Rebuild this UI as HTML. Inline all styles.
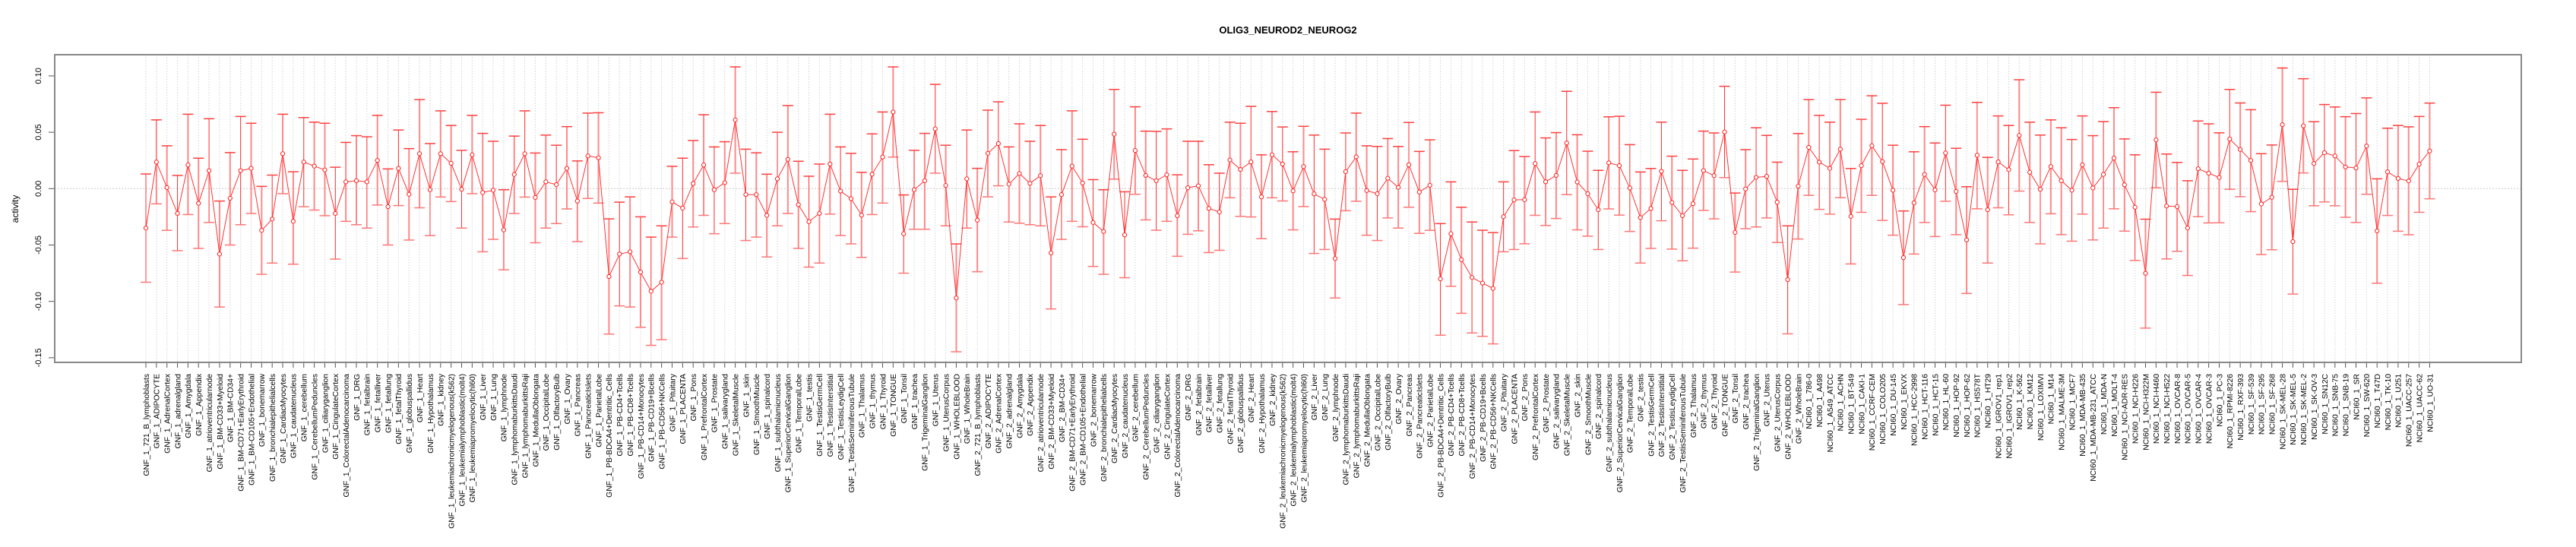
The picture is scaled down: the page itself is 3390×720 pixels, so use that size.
<!DOCTYPE html>
<html><head><meta charset="utf-8"><title>OLIG3_NEUROD2_NEUROG2</title>
<style>html,body{margin:0;padding:0;background:#fff;}svg{display:block;font-family:"Liberation Sans",Arial,sans-serif;}</style>
</head><body>
<svg id="chart" width="3390" height="720" viewBox="0 0 3390 720" xmlns="http://www.w3.org/2000/svg">
<text x="1695" y="44" text-anchor="middle" font-size="13" font-weight="bold">OLIG3_NEUROD2_NEUROG2</text>
<text transform="translate(24,275) rotate(-90)" text-anchor="middle" font-size="12">activity</text>
<g id="grid"></g>
<g id="yaxis"></g>
<g id="xaxis"></g>
<g id="series"></g>
<rect x="72" y="72" width="3246" height="405" fill="none" stroke="#888" stroke-width="2"/>
</svg>
<script>
const gnf=["721_B_lymphoblasts","ADIPOCYTE","AdrenalCortex","adrenalgland","Amygdala","Appendix","atrioventricularnode","BM-CD33+Myeloid","BM-CD34+","BM-CD71+EarlyErythroid","BM-CD105+Endothelial","bonemarrow","bronchialepithelialcells","CardiacMyocytes","caudatenucleus","cerebellum","CerebellumPeduncles","ciliaryganglion","CingulateCortex","ColorectalAdenocarcinoma","DRG","fetalbrain","fetalliver","fetallung","fetalThyroid","globuspallidus","Heart","Hypothalamus","kidney","leukemiachronicmyelogenous(k562)","leukemialymphoblastic(molt4)","leukemiapromyelocytic(hl60)","Liver","Lung","lymphnode","lymphomaburkittsDaudi","lymphomaburkittsRaji","MedullaOblongata","OccipitalLobe","OlfactoryBulb","Ovary","Pancreas","PancreaticIslets","ParietalLobe","PB-BDCA4+Dentritic_Cells","PB-CD4+Tcells","PB-CD8+Tcells","PB-CD14+Monocytes","PB-CD19+Bcells","PB-CD56+NKCells","Pituitary","PLACENTA","Pons","PrefrontalCortex","Prostate","salivarygland","SkeletalMuscle","skin","SmoothMuscle","spinalcord","subthalamicnucleus","SuperiorCervicalGanglion","TemporalLobe","testis","TestisGermCell","TestisInterstitial","TestisLeydigCell","TestisSeminiferousTubule","Thalamus","thymus","Thyroid","TONGUE","Tonsil","trachea","TrigeminalGanglion","Uterus","UterusCorpus","WHOLEBLOOD","WholeBrain"];
const nci=["786-0","A498","A549_ATCC","ACHN","BT-549","CAKI-1","CCRF-CEM","COLO205","DU-145","EKVX","HCC-2998","HCT-116","HCT-15","HL-60","HOP-92","HOP-62","HS578T","HT29","IGROV1_rep1","IGROV1_rep2","K-562","KM12","LOXIMVI","M14","MALME-3M","MCF7","MDA-MB-435","MDA-MB-231_ATCC","MDA-N","MOLT-4","NCI-ADR-RES","NCI-H226","NCI-H322M","NCI-H460","NCI-H522","OVCAR-8","OVCAR-5","OVCAR-4","OVCAR-3","PC-3","RPMI-8226","RXF-393","SF-539","SF-295","SF-268","SK-MEL-28","SK-MEL-5","SK-MEL-2","SK-OV-3","SN12C","SNB-75","SNB-19","SR","SW-620","T47D","TK-10","U251","UACC-257","UACC-62","UO-31"];
const categories=gnf.map(s=>"GNF_1_"+s).concat(gnf.map(s=>"GNF_2_"+s),nci.map(s=>"NCI60_1_"+s));
const means=[-0.035,0.0236,0.001,-0.022,0.021,-0.013,0.016,-0.058,-0.0085,0.016,0.018,-0.037,-0.027,0.031,-0.029,0.0236,0.020,0.0166,-0.022,0.006,0.007,0.006,0.025,-0.016,0.018,-0.005,0.031,-0.001,0.031,0.0225,
-0.0006,0.030,-0.0034,-0.0014,-0.0366,0.0126,0.031,-0.0078,0.006,0.0036,0.018,-0.011,0.029,0.0274,-0.078,-0.058,-0.056,-0.074,-0.091,-0.083,-0.0117,
-0.0173,0.0045,0.021,-0.001,0.0053,0.061,-0.0053,-0.0053,-0.0237,0.0087,0.026,-0.0142,-0.0293,-0.022,0.0218,-0.0022,-0.0089,-0.0235,0.0128,0.028,0.068,
-0.040,-0.001,0.007,0.053,0.0028,-0.097,0.0087,
-0.028,0.0313,0.040,0.004,0.0134,0.0047,0.0115,-0.057,-0.0053,0.020,0.005,-0.030,-0.038,0.0483,-0.041,0.0338,0.0117,0.007,0.0123,-0.024,0.0008,0.0025,-0.0176,-0.0207,0.0254,0.017,0.0237,-0.0073,0.030,0.0218,-0.002,0.0196,-0.0047,-0.0095,-0.062,
0.0151,0.0282,-0.0017,-0.0045,0.0092,0.0011,0.0212,-0.003,0.003,-0.080,-0.040,-0.063,-0.0788,-0.0838,-0.0885,-0.0249,-0.010,-0.0098,0.0223,0.0061,0.0117,
0.0405,0.0059,-0.0045,-0.0187,0.0229,0.0204,0.0006,-0.0257,-0.0176,0.0154,-0.0123,-0.024,-0.0134,0.016,0.0115,0.0503,-0.0388,-0.0003,0.010,0.0109,-0.012,-0.0807,0.0022,
0.0366,0.0235,0.018,0.035,-0.0246,0.0204,0.038,0.024,-0.0014,-0.0612,-0.0126,0.0126,-0.0011,0.0316,-0.0025,-0.0455,0.0296,-0.0187,0.0237,
0.0168,0.0472,0.0145,-0.0006,0.0196,0.007,-0.0014,0.0212,0.0006,0.0126,0.0271,0.0034,-0.0165,-0.0751,0.0433,-0.0154,-0.0159,-0.0349,0.0176,0.0137,
0.0099,0.044,0.0347,0.025,-0.0136,-0.0077,0.0567,-0.047,0.0557,0.0223,0.0319,0.029,0.0192,0.0183,0.0378,-0.0375,0.0149,0.009,0.0068,0.0217,0.0334];
const upper=[0.013,0.061,0.038,0.0117,0.066,0.027,0.062,-0.011,0.032,0.064,0.058,0.002,0.012,0.066,0.015,0.063,0.059,0.058,0.019,0.041,0.047,0.046,0.065,0.0175,0.052,0.0355,0.079,0.040,0.069,0.056,
0.034,0.065,0.049,0.042,-0.001,0.0466,0.069,0.0316,0.0475,0.0385,0.055,0.0246,0.067,0.0673,-0.0268,-0.012,-0.0073,-0.025,-0.043,-0.033,0.0198,
0.027,0.0427,0.0656,0.037,0.0416,0.108,0.035,0.0318,0.0128,0.05,0.0737,0.0243,0.011,0.0218,0.066,0.037,0.0313,0.0145,0.0486,0.068,0.108,
-0.0056,0.034,0.049,0.0925,0.0385,-0.049,0.052,
0.018,0.0696,0.077,0.037,0.0575,0.042,0.056,-0.0073,0.0346,0.069,0.0438,0.008,-0.001,0.088,-0.0028,0.0726,0.051,0.0508,0.053,0.0123,0.042,0.042,0.0212,0.0137,0.059,0.058,0.073,0.030,0.0684,0.0547,0.0327,0.0553,0.0475,0.035,-0.027,
0.0494,0.067,0.038,0.0374,0.0444,0.0374,0.0587,0.033,0.0433,-0.031,0.006,-0.0165,-0.0296,-0.0369,-0.039,0.006,0.0338,0.0285,0.068,0.045,0.0497,
0.0863,0.0478,0.0332,0.0162,0.0637,0.0642,0.039,0.0148,0.0179,0.059,0.0288,0.0162,0.0263,0.051,0.0494,0.0908,-0.0039,0.0346,0.054,0.0472,0.0235,-0.033,0.0489,
0.079,0.065,0.059,0.079,0.0179,0.0615,0.0824,0.0757,0.0385,-0.0198,0.0327,0.055,0.0405,0.074,0.0358,0.0017,0.0765,0.0277,0.0645,
0.056,0.0966,0.059,0.0475,0.061,0.054,0.0436,0.0645,0.047,0.0595,0.0718,0.0441,0.030,-0.0271,0.0855,0.0307,0.0232,0.007,0.060,0.0575,
0.0495,0.088,0.076,0.070,0.031,0.0387,0.107,-0.0006,0.0975,0.0594,0.0746,0.0724,0.0638,0.0666,0.0805,0.0087,0.0536,0.056,0.0548,0.064,0.0759];
const lower=[-0.083,-0.0135,-0.037,-0.055,-0.023,-0.053,-0.030,-0.105,-0.050,-0.032,-0.022,-0.076,-0.066,-0.0045,-0.067,-0.016,-0.019,-0.024,-0.0625,-0.029,-0.032,-0.035,-0.0145,-0.050,-0.015,-0.0456,-0.017,-0.0416,-0.0074,-0.0115,
-0.035,-0.0045,-0.056,-0.045,-0.072,-0.022,-0.0075,-0.048,-0.035,-0.031,-0.018,-0.047,-0.0087,-0.0128,-0.129,-0.104,-0.105,-0.123,-0.139,-0.134,-0.043,
-0.062,-0.034,-0.0237,-0.040,-0.031,0.0137,-0.046,-0.043,-0.0606,-0.033,-0.022,-0.053,-0.0696,-0.066,-0.0226,-0.0416,-0.049,-0.061,-0.023,-0.0128,0.028,
-0.075,-0.036,-0.036,0.0137,-0.033,-0.1447,-0.035,
-0.0737,-0.0073,0.0025,-0.0296,-0.0307,-0.032,-0.033,-0.1067,-0.045,-0.029,-0.0338,-0.069,-0.076,0.0084,-0.079,-0.005,-0.0277,-0.0369,-0.029,-0.060,-0.0405,-0.0374,-0.0567,-0.0547,-0.0081,-0.0246,-0.0251,-0.0444,-0.0081,-0.0109,-0.0366,-0.0159,-0.0575,-0.054,-0.097,
-0.0196,-0.0112,-0.0413,-0.046,-0.026,-0.035,-0.0165,-0.0397,-0.037,-0.130,-0.0866,-0.1106,-0.128,-0.131,-0.1377,-0.056,-0.054,-0.0489,-0.0237,-0.0327,-0.0265,
-0.0053,-0.0366,-0.0422,-0.054,-0.018,-0.0235,-0.038,-0.066,-0.053,-0.0285,-0.0536,-0.064,-0.0528,-0.0193,-0.0268,0.0098,-0.074,-0.0355,-0.034,-0.026,-0.0478,-0.1288,-0.0447,
-0.006,-0.0184,-0.0226,-0.008,-0.0668,-0.021,-0.006,-0.0282,-0.0413,-0.1028,-0.058,-0.030,-0.0425,-0.0112,-0.0408,-0.093,-0.0179,-0.066,-0.017,
-0.0232,-0.0022,-0.030,-0.049,-0.0223,-0.0408,-0.0466,-0.0226,-0.0455,-0.035,-0.0179,-0.0377,-0.0637,-0.1237,0.0008,-0.0623,-0.0556,-0.077,-0.0249,-0.0304,
-0.0303,-0.0006,-0.0071,-0.0204,-0.0585,-0.0542,0.0065,-0.0935,0.0139,-0.0152,-0.0118,-0.0152,-0.0254,-0.030,-0.005,-0.0839,-0.0238,-0.0378,-0.0409,-0.021,-0.009];
const yTicks=[-0.15,-0.10,-0.05,0.00,0.05,0.10];
const yTickLabels=["-0.15","-0.10","-0.05","0.00","0.05","0.10"];

const NS="http://www.w3.org/2000/svg";
const X0=192, DX=13.85, Y0=248.3, YS=1484, TOP=72, BOT=477, LEFT=72;
function xPos(i){return X0+DX*i;}
function yPos(v){return Y0-YS*v;}
function mk(tag,attrs,parent){const e=document.createElementNS(NS,tag);for(const k in attrs)e.setAttribute(k,attrs[k]);parent.appendChild(e);return e;}
const grid=document.getElementById('grid'),yax=document.getElementById('yaxis'),xax=document.getElementById('xaxis'),ser=document.getElementById('series');

// horizontal zero reference line
const zl=mk('line',{x1:LEFT,x2:3318,y1:yPos(0),y2:yPos(0),stroke:'#c8c8c8','stroke-dasharray':'2,2','stroke-width':1},grid);



yTicks.forEach((t,k)=>{
  const y=yPos(t);
  const tk=mk('line',{x1:64,x2:LEFT,y1:y,y2:y,stroke:'#555','stroke-width':1},yax);
  
  
  const lb=mk('text',{transform:`translate(54,${y}) rotate(-90)`,'text-anchor':'middle','font-size':11},yax);
  lb.textContent=yTickLabels[k];
  
  
});

categories.forEach((c,i)=>{
  const x=xPos(i);
  const g=mk('line',{x1:x,x2:x,y1:TOP,y2:BOT,stroke:'#d4d4d4','stroke-dasharray':'1.5,2','stroke-width':1},grid);
  
  
  const tk=mk('line',{x1:x,x2:x,y1:BOT,y2:BOT+7,stroke:'#555','stroke-width':1},xax);
  
  
  const lb=mk('text',{transform:`translate(${x+3.8},492) rotate(-90)`,'text-anchor':'end','font-size':10.3},xax);
  lb.textContent=c;
  
  
});

// error bars
categories.forEach((c,i)=>{
  const x=xPos(i),yu=yPos(upper[i]),yl=yPos(lower[i]);
  const eb=mk('g',{},ser);
  
  
  const col=(i%3===0)?'#ff3030':'#f88';
  mk('line',{x1:x,x2:x,y1:yu,y2:yl,stroke:col,'stroke-width':(i%3===0)?1:2},eb);
  mk('line',{x1:x-7,x2:x+7,y1:yu,y2:yu,stroke:'#ff4040','stroke-width':1.5},eb);
  mk('line',{x1:x-7,x2:x+7,y1:yl,y2:yl,stroke:'#f77','stroke-width':1.5},eb);
});
// connecting line
const pts=means.map((m,i)=>xPos(i).toFixed(1)+','+yPos(m).toFixed(1)).join(' ');
const pl=mk('polyline',{points:pts,fill:'none',stroke:'#ff3333','stroke-width':1},ser);


means.forEach((m,i)=>{
  const p=mk('circle',{cx:xPos(i),cy:yPos(m),r:2.6,fill:'#fff',stroke:'#ff2020','stroke-width':1},ser);
  
  
});
</script>
</body></html>
